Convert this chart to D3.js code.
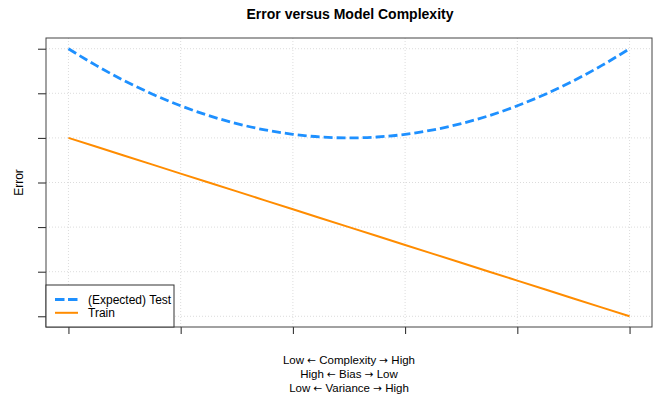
<!DOCTYPE html>
<html>
<head>
<meta charset="utf-8">
<script src="https://cdn.jsdelivr.net/npm/d3@7"></script>
<style>
  html, body { margin: 0; padding: 0; background: #fff; }
  svg { display: block; font-family: "Liberation Sans", Arial, Helvetica, sans-serif; }
</style>
</head>
<body>
<svg id="chart" width="669" height="403"></svg>
<script>
// ---- data ----
const complexity = [0,1,2,3,4,5,6,7,8,9,10,11,12,13,14,15,16,17,18,19,20];
const testError  = [6,5.62,5.28,4.98,4.72,4.5,4.32,4.18,4.08,4.02,4,4.02,4.08,4.18,4.32,4.5,4.72,4.98,5.28,5.62,6];
const trainError = [4,3.8,3.6,3.4,3.2,3,2.8,2.6,2.4,2.2,2,1.8,1.6,1.4,1.2,1,0.8,0.6,0.4,0.2,0];
const xTicks = [0,4,8,12,16,20];
const yTicks = [0,1,2,3,4,5,6];
const title = "Error versus Model Complexity";
const yLabel = "Error";
const xLabelLines = [["Low", "Complexity", "High"], ["High", "Bias", "Low"], ["Low", "Variance", "High"]];
const seriesNames = ["(Expected) Test", "Train"];
const seriesColors = ["#1E90FF", "#FF8C00"];

// ---- layout ----
const svg = d3.select("#chart");
const L = 46, R = 652, T = 38, B = 327;
const x = d3.scaleLinear().domain([-0.8, 20.8]).range([L, R]);
const y = d3.scaleLinear().domain([-0.24, 6.24]).range([B, T]);

// grid
const grid = svg.append("g").attr("stroke", "#d3d3d3").attr("stroke-dasharray", "1,2").attr("stroke-width", 0.8);
xTicks.forEach(t => grid.append("line").attr("x1", x(t)).attr("x2", x(t)).attr("y1", T).attr("y2", B));
yTicks.forEach(t => grid.append("line").attr("x1", L).attr("x2", R).attr("y1", y(t)).attr("y2", y(t)));

// axes (ticks only, no labels)
const xAxis = svg.append("g").attr("transform", `translate(0,${B})`)
  .call(d3.axisBottom(x).tickValues(xTicks).tickFormat("").tickSize(7).tickSizeOuter(0));
xAxis.select(".domain").remove();
const yAxis = svg.append("g").attr("transform", `translate(${L},0)`)
  .call(d3.axisLeft(y).tickValues(yTicks).tickFormat("").tickSize(8).tickSizeOuter(0));
yAxis.select(".domain").remove();
svg.selectAll(".tick line").attr("stroke", "#222");

// lines
const line = d3.line().x((d, i) => x(complexity[i])).y(d => y(d));
svg.append("path").datum(trainError).attr("d", line)
  .attr("fill", "none").attr("stroke", seriesColors[1]).attr("stroke-width", 2);
svg.append("path").datum(testError).attr("d", line.curve(d3.curveMonotoneX))
  .attr("fill", "none").attr("stroke", seriesColors[0]).attr("stroke-width", 2.8)
  .attr("stroke-dasharray", "9,4");

// box
svg.append("rect").attr("x", L).attr("y", T).attr("width", R - L).attr("height", B - T)
  .attr("fill", "none").attr("stroke", "#444").attr("stroke-width", 1);

// title
svg.append("text").attr("x", (L + R) / 2 + 1).attr("y", 19).attr("text-anchor", "middle")
  .attr("font-weight", "bold").attr("font-size", 14).text(title);

// y label
svg.append("text").attr("transform", `translate(23,${(T + B) / 2}) rotate(-90)`)
  .attr("text-anchor", "middle").attr("font-size", 12).text(yLabel);

// x label lines
xLabelLines.forEach((parts, i) => {
  const t = svg.append("text").attr("x", (L + R) / 2).attr("y", 364 + i * 13.8)
    .attr("text-anchor", "middle").attr("font-size", 11.5);
  t.append("tspan").text(parts[0] + " ");
  t.append("tspan").attr("font-family", "DejaVu Sans").attr("font-size", 10.5).text("\u2190");
  t.append("tspan").text(" " + parts[1] + " ");
  t.append("tspan").attr("font-family", "DejaVu Sans").attr("font-size", 10.5).text("\u2192");
  t.append("tspan").text(" " + parts[2]);
});

// legend
const lg = svg.append("g");
lg.append("rect").attr("x", L).attr("y", 285).attr("width", 128).attr("height", B - 285)
  .attr("fill", "#fff").attr("stroke", "#333").attr("stroke-width", 1);
[0, 1].forEach(i => {
  const cy = 299.5 + i * 13.3;
  lg.append("line").attr("x1", 55).attr("x2", 78).attr("y1", cy).attr("y2", cy)
    .attr("stroke", seriesColors[i]).attr("stroke-width", i === 0 ? 2.8 : 2)
    .attr("stroke-dasharray", i === 0 ? "9.5,3.5" : null);
  lg.append("text").attr("x", 88).attr("y", cy + 4.2).attr("font-size", 12).text(seriesNames[i]);
});
</script>
</body>
</html>
